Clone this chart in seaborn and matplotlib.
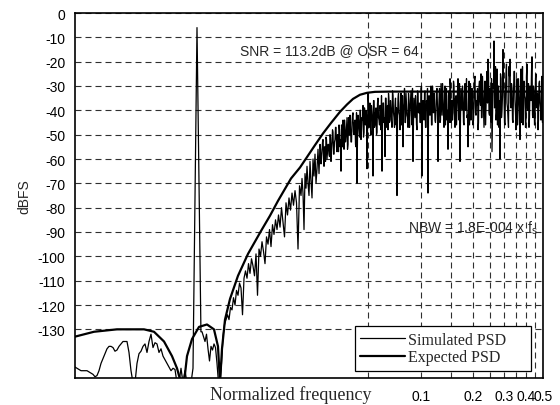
import numpy as np
import pandas as pd
import seaborn as sns
import matplotlib.pyplot as plt
from matplotlib.ticker import FixedLocator, NullFormatter

# simulated PSD (dBFS)
# low band 0.00106 .. 0.00487, one reading every ~2 px of the log axis
sim_lo_db = [-145.5, -146, -146.5, -147, -147, -147, -147, -147.5, -148, -148.5,
             -149.5, -149, -147, -144, -142, -140, -138, -137, -137, -137.5,
             -139, -138.5, -137, -136, -135, -135, -135, -139.5, -147, -152,
             -152, -144, -140, -139, -137, -136, -139.5, -135, -132, -137.5,
             -135.5, -136, -139.5, -138, -141, -142.5, -144, -145.5, -147, -146,
             -146.5, -152, -152, -146, -152, -147, -152, -152, -152]
# test tone
tone_f = [0.005, 0.00527, 0.00555]
tone_db = [-146, -6, -131]
# 0.00563 .. 0.0207
sim_mid_db = [-131, -133, -135, -132, -138, -143, -137, -138.5, -136, -137.5,
              -144, -152, -152, -144,
              -133, -128, -126, -124, -126, -121, -122, -117, -120, -114,
              -116, -111, -113, -124, -109, -106, -109, -103, -107, -101,
              -104, -108, -99, -116, -97, -100, -94, -98, -103, -92,
              -95, -89, -96, -87, -91, -85, -89, -83, -88, -80,
              -86, -92, -78, -83, -76, -81, -74, -79, -73, -78,
              -97, -71, -75]
# 0.0210 .. 0.5, noise floor
sim_hi_db = [-68, -74, -89, -66, -72, -63, -70, -75, -61, -69,
             -76, -60, -67, -58, -70, -64, -56, -66, -54, -62,
             -57, -52, -63, -55, -51, -60, -54, -58, -50, -61,
             -53, -49, -58, -52, -47, -57, -50, -46, -55, -65,
             -48, -44, -56, -47, -51, -43, -54, -46, -42, -53,
             -45, -41, -50, -44, -55, -70, -42, -48, -40, -52,
             -43, -38, -49, -45, -40, -64, -33, -47, -37, -50,
             -41, -67, -36, -46, -39, -49, -35, -44, -38, -48,
             -65, -37, -45, -59, -35, -42, -48, -36, -44, -39,
             -47, -34, -43, -38, -46, -75, -35, -41, -48, -33,
             -44, -55, -37, -45, -33, -42, -47, -36, -40, -32,
             -46, -61, -35, -43, -38, -48, -33, -41, -45, -31,
             -67, -36, -44, -32, -47, -39, -74, -34, -42, -30,
             -46, -37, -33, -44, -40, -31, -61, -36, -45, -29,
             -42, -34, -47, -30, -39, -44, -56, -32, -27, -45,
             -36, -41, -30, -47, -34, -39, -27, -44, -61, -31,
             -40, -35, -46, -29, -38, -43, -55, -28, -37, -44,
             -31, -46, -35, -26, -42, -38, -48, -30, -36, -25,
             -43, -33, -47, -28, -39, -24, -19, -41, -31, -45,
             -57, -29, -11.5, -38, -44, -23, -35, -47, -60, -27,
             -40, -15, -33, -46, -25, -37, -43, -22, -19, -39,
             -31, -45, -24, -36, -48, -27, -41, -33, -52, -23,
             -38, -46, -28, -35, -44, -21, -40, -47, -30, -36,
             -18, -43, -32, -46, -25, -39, -48, -29, -37, -44,
             -26, -40]
# extra bins in between, 0.0268 .. 0.497 (the floor is very dense there)
sim_fill_db = [-56, -60, -53, -58, -55, -61, -52, -57, -54, -59,
               -51, -56, -48, -58, -53, -47, -55, -50, -57, -48,
               -52, -46, -55, -49, -44, -53, -47, -56, -43, -50,
               -47, -53, -42, -49, -45, -54, -41, -50, -44, -51,
               -40, -48, -44, -51, -39, -46, -42, -49, -37, -45,
               -48, -38, -44, -36, -47, -41, -50, -37, -43, -46,
               -40, -34, -46, -37, -43, -35, -47, -38, -33, -45,
               -36, -44, -32, -41, -47, -35, -39, -45, -33, -42,
               -37, -46, -34, -40, -31, -45, -38, -43, -33, -47,
               -36, -42, -31, -44, -39, -34, -46, -32, -41, -37,
               -45, -30, -38, -43, -33, -47, -36, -31, -44, -39,
               -33, -46, -30, -41, -36, -45, -32, -39, -43, -31,
               -44, -35, -29, -42, -37, -46, -31, -40, -34, -45,
               -30, -38, -44, -28, -41, -35, -46, -32, -39, -29,
               -43, -36, -30, -45, -33, -40, -27, -42, -37, -46,
               -29, -39, -34, -44, -27, -41, -36, -31, -45, -28,
               -38, -43, -26, -40, -33, -46, -29, -37, -24, -42,
               -35, -27, -44, -31, -39, -22, -41, -46, -30, -36,
               -25, -43, -34, -28, -45, -32, -21, -39, -47, -26,
               -37, -29, -44, -33, -24, -41, -36, -46, -27, -39,
               -31, -45, -22, -38, -34, -47, -26, -40, -29, -43,
               -35, -24, -42, -30, -46, -27, -38, -33, -44, -28,
               -39, -31, -45]

# expected PSD (NTF shape)
exp_f = [0.001059, 0.001359, 0.001839, 0.002624, 0.002993, 0.003415, 0.003793,
         0.004051, 0.00427, 0.004442, 0.004621, 0.004935, 0.005411, 0.00601,
         0.00659, 0.006947, 0.007132, 0.007322, 0.007618, 0.008138, 0.009037,
         0.01031, 0.01223, 0.01377, 0.0153, 0.01816, 0.02043, 0.02241, 0.02489,
         0.02766, 0.03073, 0.0346, 0.03793, 0.04105, 0.045, 0.04935, 0.05482,
         0.06678, 0.5]
exp_db = [-133, -131, -130, -130, -131, -135, -141,
          -146, -152, -152, -141, -134, -129, -128,
          -130, -137, -152, -138, -126, -117.5, -108,
          -99, -89.6, -83.3, -77.2, -68, -63.5, -59.2, -54.3,
          -49.5, -45.2, -40.6, -37.6, -35.3, -33.6, -32.8, -32.4,
          -32.3, -32.3]

yticks = list(range(0, -140, -10))
xticks = [0.1, 0.2, 0.3, 0.4, 0.5]
xtick_labels = ['0.1', '0.2', '0.3', '0.4', '0.5']
xgrid_minor = [0.05, 0.15, 0.25, 0.35, 0.45]

sim = pd.DataFrame({
    'f': np.concatenate([np.geomspace(0.0010585, 0.00487, len(sim_lo_db)),
                         tone_f,
                         np.geomspace(0.005629, 0.02071, len(sim_mid_db)),
                         np.geomspace(0.020984, 0.5, len(sim_hi_db)),
                         np.geomspace(0.026768, 0.49672, len(sim_fill_db))]),
    'db': sim_lo_db + tone_db + sim_mid_db + sim_hi_db + sim_fill_db,
}).sort_values('f')
expd = pd.DataFrame({'f': exp_f, 'db': exp_db})

sns.set_style('white')
plt.rcParams['font.family'] = ['Liberation Sans', 'DejaVu Sans']

fig = plt.figure(figsize=(5.6, 4.06), dpi=100)
ax = fig.add_axes([75 / 560, 1 - 379 / 406, 468 / 560, 365 / 406])

pad = '\u00a0' * 5
sns.lineplot(data=sim, x='f', y='db', ax=ax, color='black', lw=0.9,
             estimator=None, sort=False, label='Simulated PSD' + pad, zorder=3)
sns.lineplot(data=expd, x='f', y='db', ax=ax, color='black', lw=1.6,
             estimator=None, sort=False, label='Expected PSD' + pad, zorder=4)

ax.set_xscale('log')
ax.set_xlim(0.0010585, 0.5)
ax.set_ylim(-150, 0)

ax.xaxis.set_major_locator(FixedLocator(xticks))
ax.set_xticklabels(xtick_labels)
ax.xaxis.set_minor_locator(FixedLocator(xgrid_minor))
ax.xaxis.set_minor_formatter(NullFormatter())
ax.set_yticks(yticks)
ax.set_yticklabels([str(v) for v in yticks])
ax.tick_params(axis='both', which='both', length=0, labelsize=10, colors='black')
ax.tick_params(axis='y', pad=7)
ax.tick_params(axis='x', pad=8)

grid_kw = dict(color='#303030', lw=0.8, linestyle=(0, (5.4, 3.6)))
ax.grid(True, axis='x', which='both', **grid_kw)
ax.grid(True, axis='y', which='major', **grid_kw)
ax.set_axisbelow(True)

for s in ax.spines.values():
    s.set_color('black')
    s.set_linewidth(1.2)

ax.set_xlabel('Normalized frequency', family=['Liberation Serif'], fontsize=13,
              va='center')
ax.xaxis.set_label_coords(0.4605, -0.044)
ax.set_ylabel('dBFS', fontsize=10, va='center')
ax.yaxis.set_label_coords(-0.109, 0.5)

ax.text(0.009279, -16.9, 'SNR = 113.2dB @ OSR = 64', fontsize=10, va='baseline')
ax.text(0.08464, -90, r'NBW = 1.8E-004 x f$_\mathregular{s}$', fontsize=10,
        va='baseline')

leg = ax.legend(loc='lower left', bbox_to_anchor=(0.598, 0.019),
                borderaxespad=0, fancybox=False, framealpha=1,
                edgecolor='black', prop={'family': 'Liberation Serif', 'size': 11.5},
                handlelength=2.8, handletextpad=0.15, labelspacing=0.1,
                borderpad=0.35)
leg.get_frame().set_linewidth(0.9)
leg.set_zorder(10)

fig.savefig('out.png', dpi=100)
